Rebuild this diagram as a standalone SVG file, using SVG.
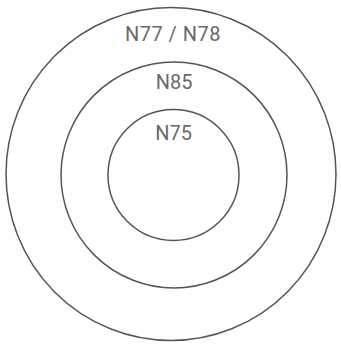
<svg xmlns="http://www.w3.org/2000/svg" width="341" height="347" viewBox="0 0 341 347">
<style>
.ring{fill:none;stroke:#555;stroke-width:1.5}
.lbl{font-family:Roboto,"Liberation Sans",sans-serif;font-size:20px;fill:#6a6a6a;text-anchor:middle}
</style>
<rect width="341" height="347" fill="#fff"/>
<g id="n77">
<ellipse class="ring" cx="171" cy="174" rx="165" ry="166.5"/>
<text class="lbl" x="173" y="41" letter-spacing="0.5">N77 / N78</text>
</g>
<g id="n85">
<circle class="ring" cx="174" cy="175" r="113"/>
<text class="lbl" x="174" y="89">N85</text>
</g>
<g id="n75">
<circle class="ring" cx="173.5" cy="175" r="65.5"/>
<text class="lbl" x="173.5" y="140">N75</text>
</g>
<g id="connectors"/>
</svg>
